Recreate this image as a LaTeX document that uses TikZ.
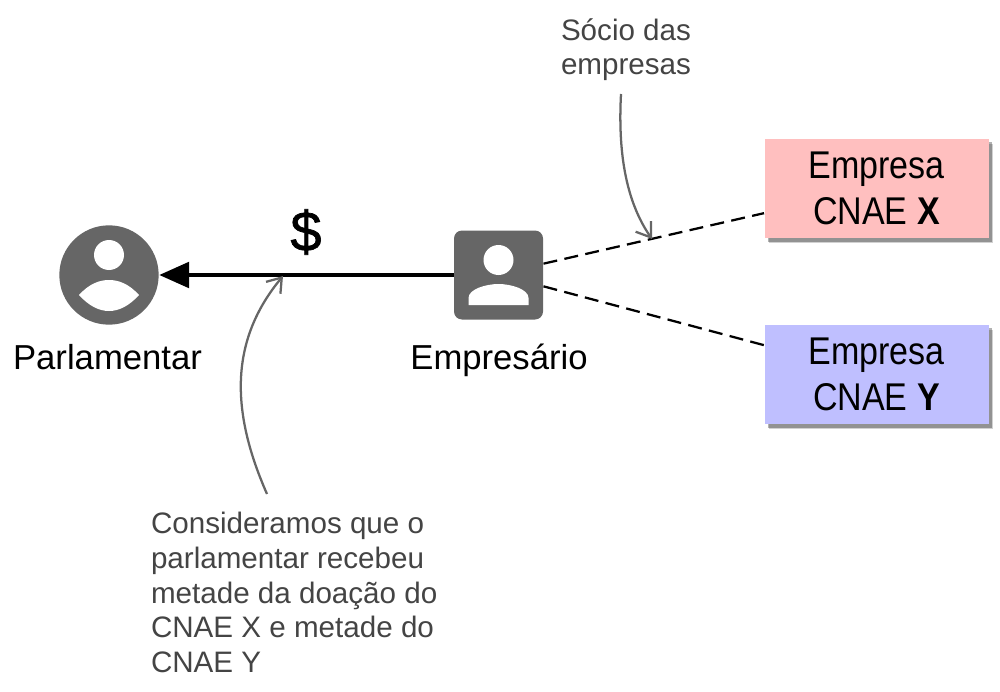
\documentclass[tikz,border=0pt]{standalone}
\usepackage{fontspec}
\usetikzlibrary{arrows.meta,shadows}
\setmainfont{Liberation Sans}
\newfontfamily\condfont[FakeStretch=0.88]{Liberation Sans}
\newfontfamily\moneyfont[FakeBold=1.2]{Liberation Sans}
\definecolor{iconfill}{RGB}{102,102,102}
\definecolor{notetext}{RGB}{68,68,68}
\definecolor{boxred}{RGB}{255,191,191}
\definecolor{boxblue}{RGB}{191,191,255}
\tikzset{
	every picture/.style={line width=0.75pt},
	person/.style={fill=iconfill,inner sep=0pt,minimum size=74.5pt},
	label text/.style={inner sep=0pt,anchor=base,font=\fontsize{26}{28}\selectfont},
	note text/.style={inner sep=0.75pt,color=notetext,align=left,font=\fontsize{22.2}{26}\selectfont},
	company/.style={inner sep=0pt,minimum width=168pt,minimum height=74.5pt,align=center,
		font=\condfont\fontsize{29}{34.5}\selectfont,
		drop shadow={shadow xshift=3.6pt,shadow yshift=-3.6pt,fill=black,opacity=0.18},
		drop shadow={shadow xshift=2.6pt,shadow yshift=-2.6pt,fill=black,opacity=0.3}},
	note arrow/.style={color=iconfill,line width=1.7pt,-{Straight Barb[length=10pt,width=14pt]}},
	link/.style={dash pattern=on 10.5pt off 5.55pt,line width=1.7pt}
}
\begin{document}
\begin{tikzpicture}[x=0.75pt,y=0.75pt,yscale=-1,xscale=1]
	\useasboundingbox (0,0) rectangle (1000,692);
	
	%Person icons
	\node [person,circle] (parl) at (109,275) {};
	\node [person,rounded corners=6pt,minimum size=66.75pt] (emp) at (498.5,275) {};
	\begin{scope}[shift={(parl.center)}]
		\fill [white] (0,-20) circle (15);
		\fill [white] (-30,20) .. controls (-20,9) and (-10,5) .. (0,5) .. controls (10,5) and (20,9) .. (30,20) .. controls (20,31) and (10,36) .. (0,36) .. controls (-10,36) and (-20,31) .. (-30,20) -- cycle;
	\end{scope}
	\begin{scope}[shift={(emp.center)}]
		\fill [white] (0,-15) circle (15);
		\fill [white] (-30,30) -- (-30,23) .. controls (-30,14) and (-12,9) .. (0,9) .. controls (12,9) and (30,14) .. (30,23) -- (30,30) -- cycle;
	\end{scope}
	
	%Company boxes
	\node [company,fill=boxred] (boxX) at (876.5,188.5) {Empresa\\CNAE \textbf{X}};
	\node [company,fill=boxblue] (boxY) at (876.5,374.5) {Empresa\\CNAE \textbf{Y}};
	
	%Straight Lines
	\draw [line width=3.4pt,-{Triangle[length=22.5pt,width=19pt]}] (emp.west) -- (parl.east);
	\draw [link] ([yshift=-8.5pt]emp.east) -- ([yshift=18.5pt]boxX.west);
	\draw [link] ([yshift=8.5pt]emp.east) -- ([yshift=-22pt]boxY.west);
	
	% Text Node
	\node [label text] (parlLabel) at (107.5,369) {Parlamentar};
	% Text Node
	\node [label text] (empLabel) at (499,369) {Empresário};
	% Text Node
	\node [inner sep=0.75pt,font=\moneyfont\fontsize{42}{42}\selectfont] (money) at (306,232) {\$};
	% Text Node
	\node [note text,anchor=north west] (noteSocio) at (559.5,17) {Sócio das\\empresas};
	% Text Node
	\node [note text,anchor=north west] (noteDoacao) at (149.5,511) {Consideramos que o\\parlamentar recebeu\\metade da doação do\\CNAE X e metade do\\CNAE Y};
	
	%Curved notes
	\coordinate (socioStart) at (621,94);
	\coordinate (socioEnd) at (652,239);
	\coordinate (doacaoStart) at (267,494);
	\coordinate (doacaoEnd) at (283,276);
	\draw [note arrow] (socioStart) .. controls (618,150) and (625,200) .. (socioEnd);
	\draw [note arrow] (doacaoStart) .. controls (230,410) and (230,340) .. (doacaoEnd);
\end{tikzpicture}
\end{document}
